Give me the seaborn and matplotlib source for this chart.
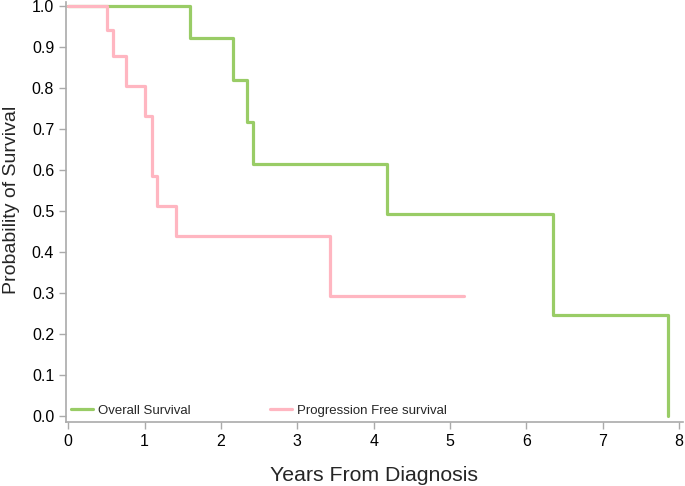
import matplotlib
matplotlib.use("Agg")
import matplotlib.pyplot as plt
import seaborn as sns
import pandas as pd

os_time = [0, 1.59, 2.16, 2.34, 2.42, 4.17, 6.35, 7.85]
os_surv = [1.0, 0.923, 0.821, 0.718, 0.616, 0.493, 0.247, 0.0]
pfs_time = [0, 0.51, 0.59, 0.755, 1.0, 1.10, 1.16, 1.41, 3.43, 5.18]
pfs_surv = [1.0, 0.941, 0.879, 0.805, 0.732, 0.585, 0.513, 0.44, 0.293, 0.293]
series_names = ["Overall Survival", "Progression Free survival"]
colors = ["#99cc66", "#ffb6c1"]
x_ticks = [0, 1, 2, 3, 4, 5, 6, 7, 8]
y_ticks = [0.0, 0.1, 0.2, 0.3, 0.4, 0.5, 0.6, 0.7, 0.8, 0.9, 1.0]

df = pd.concat([
    pd.DataFrame({"time": os_time, "surv": os_surv, "series": series_names[0]}),
    pd.DataFrame({"time": pfs_time, "surv": pfs_surv, "series": series_names[1]}),
], ignore_index=True)

sns.set_style("ticks")
plt.rcParams["font.family"] = ["Liberation Sans", "DejaVu Sans"]

fig = plt.figure(figsize=(6.85, 4.86), dpi=100)
ax = fig.add_axes([66/685, 1 - 422/486, (683-66)/685, (422-2)/486])

sns.lineplot(data=df, x="time", y="surv", hue="series", palette=colors,
             hue_order=series_names, drawstyle="steps-post", estimator=None,
             linewidth=2.3, ax=ax, sort=False)

ax.set_xlim(-0.03, 8.05)
ax.set_ylim(-0.014, 1.01)
ax.set_xticks(x_ticks)
ax.set_xticklabels([str(t) for t in x_ticks])
ax.set_yticks(y_ticks)
ax.set_yticklabels([f"{t:.1f}" for t in y_ticks])
ax.tick_params(axis="both", colors="#aaaaaa", labelcolor="black", labelsize=11.5,
               length=5, width=1)
for s in ["left", "bottom"]:
    ax.spines[s].set_color("#aaaaaa")
    ax.spines[s].set_linewidth(1.2)
sns.despine(ax=ax)

ax.set_xlabel("Years From Diagnosis", fontsize=15.3)
ax.set_ylabel("Probability of Survival", fontsize=14)
ax.xaxis.set_label_coords(0.5, -0.105)
ax.yaxis.set_label_coords(-0.074, 0.529)

handles, labels = ax.get_legend_handles_labels()
ax.legend(handles, labels, loc="lower left", ncol=2, frameon=False,
          fontsize=9.5, handlelength=1.65, handletextpad=0.38,
          columnspacing=6.0, bbox_to_anchor=(0.0, 0.0), borderaxespad=0.0)

fig.savefig("out.png", dpi=100)
